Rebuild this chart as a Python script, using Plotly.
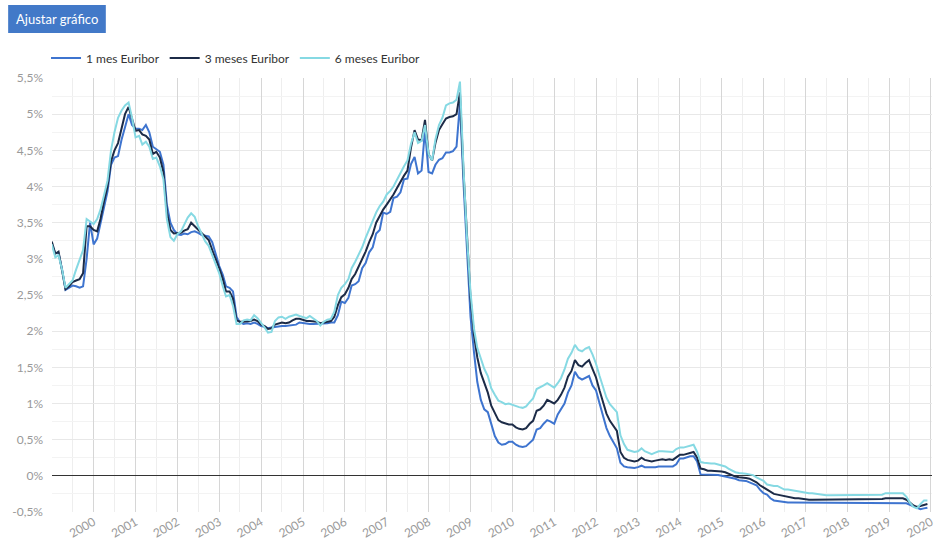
import pandas as pd
import plotly.graph_objects as go

# ---------------- data (monthly, Jan 1999 - Dec 2019) ----------------
months = pd.date_range("1999-01-01", periods=252, freq="MS")

euribor_1m = [
    3.20, 3.08, 3.08, 2.85, 2.57, 2.60, 2.63, 2.62, 2.60, 2.62, 3.00, 3.50,  # 1999
    3.20, 3.28, 3.48, 3.72, 3.93, 4.30, 4.40, 4.42, 4.65, 4.82, 5.00, 4.85,  # 2000
    4.80, 4.80, 4.78, 4.85, 4.75, 4.55, 4.52, 4.48, 4.30, 3.75, 3.50, 3.40,  # 2001
    3.34, 3.33, 3.35, 3.34, 3.37, 3.38, 3.36, 3.33, 3.32, 3.31, 3.23, 3.05,  # 2002
    2.90, 2.78, 2.62, 2.60, 2.55, 2.20, 2.12, 2.10, 2.11, 2.10, 2.12, 2.10,  # 2003
    2.07, 2.06, 2.04, 2.05, 2.06, 2.07, 2.07, 2.07, 2.08, 2.08, 2.09, 2.12,  # 2004
    2.11, 2.10, 2.10, 2.10, 2.10, 2.10, 2.11, 2.11, 2.12, 2.12, 2.22, 2.41,  # 2005
    2.39, 2.46, 2.63, 2.65, 2.69, 2.87, 2.94, 3.09, 3.16, 3.35, 3.40, 3.64,  # 2006
    3.62, 3.65, 3.84, 3.86, 3.92, 4.10, 4.11, 4.31, 4.41, 4.18, 4.22, 4.78,  # 2007
    4.20, 4.18, 4.30, 4.37, 4.39, 4.47, 4.47, 4.49, 4.55, 5.15, 4.05, 3.10,  # 2008
    2.20, 1.70, 1.30, 1.05, 0.92, 0.88, 0.72, 0.55, 0.46, 0.43, 0.44, 0.47,  # 2009
    0.47, 0.43, 0.41, 0.40, 0.41, 0.45, 0.50, 0.64, 0.66, 0.72, 0.77, 0.75,  # 2010
    0.72, 0.85, 0.92, 1.00, 1.15, 1.25, 1.44, 1.36, 1.33, 1.35, 1.38, 1.25,  # 2011
    1.18, 1.00, 0.85, 0.66, 0.55, 0.46, 0.38, 0.18, 0.13, 0.12, 0.11, 0.11,  # 2012
    0.12, 0.14, 0.12, 0.12, 0.11, 0.12, 0.13, 0.13, 0.13, 0.13, 0.13, 0.16,  # 2013
    0.24, 0.24, 0.25, 0.27, 0.27, 0.20, 0.02, 0.02, 0.01, 0.01, 0.01, 0.01,  # 2014
    0.00, -0.01, -0.02, -0.03, -0.04, -0.06, -0.06, -0.07, -0.09, -0.11, -0.13, -0.19,  # 2015
    -0.24, -0.26, -0.31, -0.34, -0.35, -0.36, -0.37, -0.37, -0.37, -0.37, -0.37, -0.37,  # 2016
    -0.37, -0.37, -0.37, -0.37, -0.37, -0.37, -0.37, -0.37, -0.37, -0.37, -0.37, -0.37,  # 2017
    -0.37, -0.37, -0.37, -0.37, -0.37, -0.37, -0.37, -0.37, -0.37, -0.37, -0.37, -0.37,  # 2018
    -0.37, -0.37, -0.37, -0.37, -0.37, -0.38, -0.40, -0.42, -0.45, -0.46, -0.45, -0.44,  # 2019
]

euribor_3m = [
    3.24, 3.07, 3.10, 2.85, 2.58, 2.62, 2.68, 2.70, 2.72, 2.80, 3.45, 3.45,  # 1999
    3.40, 3.38, 3.55, 3.80, 4.00, 4.35, 4.50, 4.60, 4.80, 5.00, 5.10, 4.95,  # 2000
    4.77, 4.78, 4.72, 4.70, 4.65, 4.45, 4.48, 4.40, 4.20, 3.65, 3.40, 3.35,  # 2001
    3.35, 3.36, 3.39, 3.41, 3.50, 3.45, 3.40, 3.35, 3.31, 3.26, 3.12, 3.00,  # 2002
    2.87, 2.72, 2.55, 2.55, 2.45, 2.15, 2.13, 2.13, 2.13, 2.14, 2.16, 2.14,  # 2003
    2.09, 2.07, 2.03, 2.04, 2.09, 2.11, 2.12, 2.11, 2.12, 2.15, 2.17, 2.17,  # 2004
    2.15, 2.14, 2.14, 2.14, 2.13, 2.11, 2.12, 2.13, 2.14, 2.20, 2.36, 2.47,  # 2005
    2.51, 2.60, 2.72, 2.79, 2.89, 2.99, 3.10, 3.23, 3.34, 3.50, 3.60, 3.68,  # 2006
    3.75, 3.82, 3.89, 3.98, 4.07, 4.15, 4.22, 4.54, 4.78, 4.65, 4.64, 4.92,  # 2007
    4.45, 4.36, 4.60, 4.78, 4.86, 4.94, 4.96, 4.97, 5.00, 5.30, 4.20, 3.25,  # 2008
    2.46, 1.94, 1.64, 1.42, 1.28, 1.15, 0.97, 0.86, 0.77, 0.74, 0.72, 0.71,  # 2009
    0.71, 0.67, 0.65, 0.64, 0.66, 0.72, 0.76, 0.90, 0.92, 0.97, 1.05, 1.02,  # 2010
    1.00, 1.05, 1.12, 1.22, 1.37, 1.45, 1.60, 1.53, 1.51, 1.56, 1.60, 1.48,  # 2011
    1.36, 1.18, 1.02, 0.86, 0.76, 0.69, 0.62, 0.33, 0.25, 0.22, 0.21, 0.20,  # 2012
    0.21, 0.25, 0.22, 0.21, 0.20, 0.21, 0.22, 0.23, 0.22, 0.23, 0.22, 0.26,  # 2013
    0.29, 0.29, 0.30, 0.31, 0.33, 0.25, 0.10, 0.09, 0.07, 0.07, 0.07, 0.06,  # 2014
    0.06, 0.05, 0.03, 0.01, -0.01, -0.02, -0.02, -0.03, -0.04, -0.06, -0.09, -0.13,  # 2015
    -0.16, -0.19, -0.23, -0.25, -0.26, -0.27, -0.29, -0.30, -0.30, -0.31, -0.31, -0.32,  # 2016
    -0.33, -0.33, -0.33, -0.33, -0.33, -0.33, -0.33, -0.33, -0.33, -0.33, -0.33, -0.33,  # 2017
    -0.33, -0.33, -0.33, -0.33, -0.33, -0.32, -0.32, -0.32, -0.32, -0.32, -0.32, -0.31,  # 2018
    -0.31, -0.31, -0.31, -0.31, -0.31, -0.33, -0.37, -0.41, -0.43, -0.42, -0.40, -0.39,  # 2019
]

euribor_6m = [
    3.20, 3.02, 3.05, 2.85, 2.60, 2.65, 2.70, 2.85, 3.00, 3.12, 3.55, 3.52,  # 1999
    3.48, 3.55, 3.68, 3.88, 4.08, 4.50, 4.75, 4.95, 5.05, 5.12, 5.16, 4.95,  # 2000
    4.68, 4.70, 4.58, 4.62, 4.55, 4.38, 4.40, 4.28, 4.10, 3.55, 3.30, 3.25,  # 2001
    3.34, 3.38, 3.48, 3.57, 3.63, 3.58, 3.45, 3.35, 3.24, 3.18, 3.05, 2.95,  # 2002
    2.80, 2.62, 2.48, 2.50, 2.35, 2.10, 2.10, 2.15, 2.16, 2.15, 2.22, 2.18,  # 2003
    2.12, 2.05, 1.98, 1.99, 2.14, 2.19, 2.20, 2.17, 2.20, 2.22, 2.23, 2.21,  # 2004
    2.19, 2.18, 2.21, 2.17, 2.14, 2.08, 2.13, 2.16, 2.17, 2.27, 2.50, 2.60,  # 2005
    2.65, 2.72, 2.87, 2.96, 3.06, 3.16, 3.29, 3.41, 3.53, 3.64, 3.73, 3.79,  # 2006
    3.89, 3.94, 4.00, 4.10, 4.20, 4.28, 4.36, 4.59, 4.75, 4.60, 4.63, 4.85,  # 2007
    4.45, 4.36, 4.65, 4.85, 4.95, 5.12, 5.15, 5.16, 5.20, 5.45, 4.25, 3.30,  # 2008
    2.54, 2.03, 1.77, 1.61, 1.48, 1.38, 1.21, 1.12, 1.04, 1.02, 0.99, 1.00,  # 2009
    0.98, 0.96, 0.95, 0.94, 0.96, 1.02, 1.07, 1.20, 1.22, 1.25, 1.28, 1.25,  # 2010
    1.22, 1.28, 1.35, 1.47, 1.62, 1.70, 1.81, 1.74, 1.72, 1.76, 1.78, 1.68,  # 2011
    1.55, 1.38, 1.22, 1.08, 0.99, 0.93, 0.88, 0.56, 0.44, 0.36, 0.34, 0.33,  # 2012
    0.34, 0.38, 0.34, 0.32, 0.30, 0.32, 0.34, 0.34, 0.34, 0.34, 0.33, 0.37,  # 2013
    0.39, 0.39, 0.40, 0.42, 0.43, 0.33, 0.19, 0.18, 0.17, 0.17, 0.17, 0.16,  # 2014
    0.15, 0.13, 0.10, 0.07, 0.05, 0.04, 0.04, 0.03, 0.02, 0.01, -0.02, -0.05,  # 2015
    -0.07, -0.12, -0.13, -0.14, -0.14, -0.16, -0.19, -0.19, -0.20, -0.21, -0.21, -0.22,  # 2016
    -0.24, -0.24, -0.24, -0.25, -0.25, -0.27, -0.27, -0.27, -0.27, -0.27, -0.27, -0.27,  # 2017
    -0.27, -0.27, -0.27, -0.27, -0.27, -0.27, -0.27, -0.27, -0.27, -0.26, -0.26, -0.24,  # 2018
    -0.24, -0.23, -0.23, -0.23, -0.24, -0.29, -0.37, -0.43, -0.45, -0.39, -0.34, -0.34,  # 2019
]

series_names = ["1 mes Euribor", "3 meses Euribor", "6 meses Euribor"]
series_colors = ["#3e74cf", "#1c2b47", "#86d9e3"]

x_tick_vals = [f"{y}-01-01" for y in range(2000, 2021)]
x_tick_text = [str(y) for y in range(2000, 2021)]

y_tick_vals = [-0.5, 0, 0.5, 1, 1.5, 2, 2.5, 3, 3.5, 4, 4.5, 5, 5.5]
y_tick_text = ["-0,5%", "0%", "0,5%", "1%", "1,5%", "2%", "2,5%", "3%",
               "3,5%", "4%", "4,5%", "5%", "5,5%"]

# ---------------- figure ----------------
W, H = 935, 545
ML, MR, MT, MB = 52, 0, 78, 33
PW, PH = W - ML - MR, H - MT - MB


def px_x(x):
    return (x - ML) / PW


def px_y(y):
    return (H - MB - y) / PH


fig = go.Figure()
for name, vals, col in zip(series_names, [euribor_1m, euribor_3m, euribor_6m], series_colors):
    fig.add_trace(go.Scatter(x=months, y=vals, mode="lines", name=name,
                             line=dict(color=col, width=2)))

fig.update_layout(
    width=W, height=H,
    margin=dict(l=ML, r=MR, t=MT, b=MB),
    paper_bgcolor="white", plot_bgcolor="white",
    font=dict(family="Lato, 'Open Sans', sans-serif", size=12, color="#333"),
    showlegend=True,
    legend=dict(orientation="h", x=px_x(46), xanchor="left",
                y=px_y(58), yanchor="middle",
                font=dict(size=12, color="#333"), bgcolor="rgba(0,0,0,0)",
                itemwidth=30, tracegroupgap=0),
    xaxis=dict(
        type="date",
        range=["1999-01-03", "2020-01-10"],
        tickvals=x_tick_vals, ticktext=x_tick_text,
        tickangle=-30, ticklabeloverflow="allow",
        tickfont=dict(size=12, color="#999"),
        showgrid=True, gridcolor="#d6d6d6", gridwidth=1,
        minor=dict(dtick="M6", tick0="1999-07-01", showgrid=True,
                   gridcolor="#eeeeee", gridwidth=1),
        showline=False, zeroline=False, ticks="",
    ),
    yaxis=dict(
        range=[-0.5, 5.5],
        tickvals=y_tick_vals, ticktext=y_tick_text,
        tickfont=dict(size=12, color="#999"),
        showgrid=True, gridcolor="#e8e8e8", gridwidth=1,
        minor=dict(dtick=0.25, showgrid=True, gridcolor="#f3f3f3", gridwidth=1),
        zeroline=True, zerolinecolor="#333", zerolinewidth=1,
        showline=False, ticks="", ticklabelstandoff=8,
    ),
)

# "Ajustar gráfico" button
fig.add_shape(type="rect", xref="paper", yref="paper",
              x0=px_x(8), x1=px_x(106), y0=px_y(33), y1=px_y(5),
              fillcolor="#4279c8", line=dict(width=0), layer="above")
fig.add_annotation(xref="paper", yref="paper", x=px_x(57), y=px_y(19),
                   text="Ajustar gráfico", showarrow=False,
                   font=dict(size=13, color="white"),
                   xanchor="center", yanchor="middle")

fig.write_html("out.html",
               config={"displayModeBar": False},
               post_script="document.body.style.margin='0';"
                           "document.body.style.overflow='hidden';")
